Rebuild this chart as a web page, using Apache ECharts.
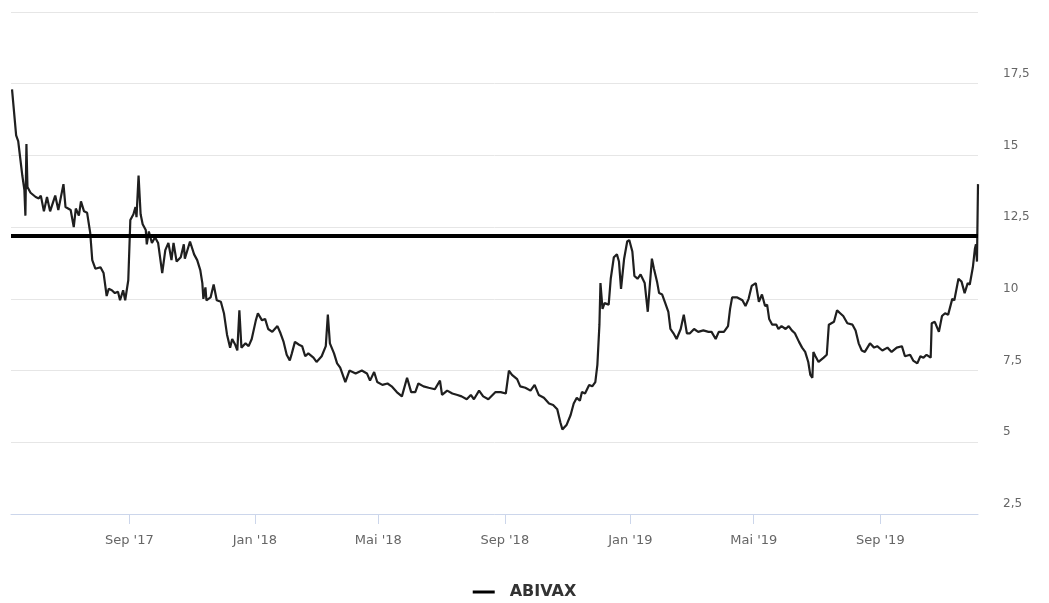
<!DOCTYPE html>
<html>
<head>
<meta charset="utf-8">
<script src="https://cdn.jsdelivr.net/npm/echarts@6/dist/echarts.min.js"></script>
<style>
html,body{margin:0;padding:0;background:#ffffff;}
#chart{width:1049px;height:603px;}
</style>
</head>
<body>
<div id="chart"></div>
<script>
const seriesName = 'ABIVAX';
const thresholdValue = 12.2;
const xMin = '2017-05-09';
const xMax = '2019-12-05';
const tickDates = ['2017-09-01','2018-01-01','2018-05-01','2018-09-01','2019-01-01','2019-05-01','2019-09-01'];
const tickLabels = ["Sep '17","Jan '18","Mai '18","Sep '18","Jan '19","Mai '19","Sep '19"];
const yMin = 2.5, yMax = 20, yStep = 2.5;

const dates = [
'2017-05-10','2017-05-14','2017-05-16','2017-05-20','2017-05-22','2017-05-23','2017-05-24','2017-05-25','2017-05-28','2017-06-02',
'2017-06-05','2017-06-07','2017-06-10','2017-06-13','2017-06-16','2017-06-21','2017-06-24','2017-06-29','2017-07-01','2017-07-06',
'2017-07-09','2017-07-11','2017-07-14','2017-07-16','2017-07-19','2017-07-22','2017-07-25','2017-07-27','2017-07-30','2017-08-04',
'2017-08-07','2017-08-10','2017-08-12','2017-08-15','2017-08-18','2017-08-21','2017-08-23','2017-08-26','2017-08-28','2017-08-31',
'2017-09-02','2017-09-05','2017-09-07','2017-09-08','2017-09-10','2017-09-12','2017-09-14','2017-09-17','2017-09-18','2017-09-20',
'2017-09-23','2017-09-26','2017-09-29','2017-10-03','2017-10-06','2017-10-09','2017-10-12','2017-10-14','2017-10-17','2017-10-21',
'2017-10-24','2017-10-25','2017-10-30','2017-11-03','2017-11-06','2017-11-09','2017-11-11','2017-11-12','2017-11-14','2017-11-15',
'2017-11-19','2017-11-22','2017-11-25','2017-11-29','2017-12-02','2017-12-05','2017-12-08','2017-12-10','2017-12-13','2017-12-15',
'2017-12-17','2017-12-19','2017-12-23','2017-12-26','2017-12-29','2018-01-02','2018-01-04','2018-01-08','2018-01-11','2018-01-14',
'2018-01-18','2018-01-23','2018-01-26','2018-01-29','2018-02-01','2018-02-04','2018-02-06','2018-02-09','2018-02-13','2018-02-16',
'2018-02-19','2018-02-22','2018-02-27','2018-03-02','2018-03-07','2018-03-11','2018-03-13','2018-03-15','2018-03-19','2018-03-22',
'2018-03-25','2018-03-30','2018-04-03','2018-04-09','2018-04-15','2018-04-20','2018-04-23','2018-04-27','2018-04-30','2018-05-05',
'2018-05-10','2018-05-14','2018-05-19','2018-05-24','2018-05-29','2018-06-02','2018-06-06','2018-06-09','2018-06-14','2018-06-19',
'2018-06-25','2018-06-30','2018-07-02','2018-07-07','2018-07-12','2018-07-17','2018-07-21','2018-07-26','2018-07-30','2018-08-02',
'2018-08-07','2018-08-11','2018-08-16','2018-08-23','2018-08-28','2018-09-02','2018-09-05','2018-09-08','2018-09-13','2018-09-16',
'2018-09-21','2018-09-26','2018-09-30','2018-10-04','2018-10-09','2018-10-14','2018-10-18','2018-10-22','2018-10-25','2018-10-27',
'2018-10-31','2018-11-04','2018-11-07','2018-11-10','2018-11-13','2018-11-15','2018-11-18','2018-11-22','2018-11-25','2018-11-28',
'2018-11-30','2018-12-02','2018-12-03','2018-12-05','2018-12-07','2018-12-11','2018-12-13','2018-12-16','2018-12-19','2018-12-21',
'2018-12-23','2018-12-26','2018-12-29','2018-12-31','2019-01-03','2019-01-05','2019-01-08','2019-01-11','2019-01-15','2019-01-18',
'2019-01-22','2019-01-24','2019-01-27','2019-01-29','2019-02-01','2019-02-04','2019-02-07','2019-02-09','2019-02-12','2019-02-15',
'2019-02-19','2019-02-22','2019-02-25','2019-02-28','2019-03-04','2019-03-08','2019-03-13','2019-03-18','2019-03-21','2019-03-25',
'2019-03-28','2019-04-02','2019-04-06','2019-04-08','2019-04-10','2019-04-15','2019-04-20','2019-04-23','2019-04-26','2019-04-29',
'2019-05-03','2019-05-06','2019-05-09','2019-05-12','2019-05-14','2019-05-16','2019-05-19','2019-05-23','2019-05-25','2019-05-28',
'2019-06-01','2019-06-04','2019-06-07','2019-06-10','2019-06-14','2019-06-17','2019-06-20','2019-06-23','2019-06-25','2019-06-27',
'2019-06-28','2019-06-30','2019-07-03','2019-07-08','2019-07-11','2019-07-13','2019-07-18','2019-07-21','2019-07-24','2019-07-27',
'2019-07-31','2019-08-05','2019-08-08','2019-08-11','2019-08-14','2019-08-17','2019-08-22','2019-08-26','2019-08-29','2019-09-03',
'2019-09-08','2019-09-12','2019-09-17','2019-09-22','2019-09-25','2019-09-30','2019-10-03','2019-10-07','2019-10-10','2019-10-13',
'2019-10-16','2019-10-20','2019-10-21','2019-10-24','2019-10-28','2019-10-31','2019-11-03','2019-11-06','2019-11-10','2019-11-12',
'2019-11-16','2019-11-19','2019-11-22','2019-11-25','2019-11-27','2019-11-30','2019-12-02','2019-12-03','2019-12-04','2019-12-05'
];

const prices = [
17.3,15.7,15.5,14.3,13.8,12.9,15.4,13.9,13.7,13.55,
13.5,13.6,13.05,13.55,13.05,13.6,13.1,14.0,13.2,13.1,
12.5,13.15,12.9,13.4,13.05,13.0,12.3,11.35,11.05,11.1,
10.9,10.1,10.35,10.3,10.2,10.25,9.95,10.3,9.95,10.65,
12.75,12.95,13.2,12.85,14.3,12.95,12.6,12.4,11.9,12.35,
11.95,12.15,11.95,10.9,11.7,11.95,11.35,11.95,11.3,11.45,
11.9,11.4,12.0,11.55,11.35,11.0,10.55,10.0,10.4,9.95,
10.05,10.5,9.95,9.9,9.5,8.75,8.3,8.6,8.4,8.2,
9.6,8.3,8.45,8.35,8.6,9.25,9.5,9.25,9.3,8.95,
8.85,9.05,8.8,8.5,8.05,7.85,8.1,8.5,8.4,8.35,
8.0,8.1,7.95,7.8,8.0,8.35,9.45,8.45,8.1,7.75,
7.6,7.1,7.5,7.4,7.5,7.4,7.15,7.45,7.1,7.0,
7.05,6.95,6.75,6.6,7.25,6.75,6.75,7.05,6.95,6.9,
6.85,7.15,6.65,6.8,6.7,6.65,6.6,6.5,6.65,6.5,
6.8,6.6,6.5,6.75,6.75,6.7,7.5,7.35,7.2,6.95,
6.9,6.8,7.0,6.65,6.55,6.35,6.3,6.15,5.7,5.45,
5.6,5.95,6.35,6.55,6.45,6.75,6.7,7.0,6.95,7.1,
7.7,9.1,10.55,9.65,9.85,9.8,10.7,11.45,11.55,11.3,
10.35,11.4,12.0,12.05,11.65,10.8,10.7,10.85,10.55,9.55,
11.4,11.05,10.6,10.2,10.15,9.85,9.55,8.95,8.8,8.6,
8.95,9.45,8.8,8.8,8.95,8.85,8.9,8.85,8.85,8.6,
8.85,8.85,9.05,9.65,10.05,10.05,9.95,9.75,10.0,10.45,
10.55,9.9,10.15,9.75,9.8,9.3,9.1,9.1,8.95,9.05,
8.95,9.05,8.9,8.8,8.5,8.3,8.15,7.8,7.35,7.25,
8.15,8.0,7.8,7.95,8.05,9.1,9.2,9.6,9.5,9.4,
9.15,9.1,8.9,8.45,8.2,8.15,8.45,8.3,8.35,8.2,
8.3,8.15,8.3,8.35,8.0,8.05,7.85,7.75,8.0,7.95,
8.05,7.95,9.15,9.2,8.85,9.4,9.5,9.45,10.0,9.95,
10.7,10.6,10.2,10.55,10.5,11.1,11.75,11.9,11.3,14.0
];

function toTime(s) {
  const p = s.split('-').map(Number);
  return new Date(p[0], p[1] - 1, p[2]).getTime();
}

const seriesData = dates.map((d, i) => [toTime(d), prices[i]]);
const tickTimes = tickDates.map(toTime);

const chart = echarts.init(document.getElementById('chart'), null, {renderer: 'canvas'});
chart.setOption({
  animation: false,
  backgroundColor: '#ffffff',
  grid: {left: 11, right: 71, top: 12, bottom: 89, containLabel: false},
  legend: {
    data: [seriesName],
    left: 'center',
    top: 579,
    icon: 'rect',
    itemWidth: 22,
    itemHeight: 3,
    itemGap: 10,
    textStyle: {fontFamily: 'DejaVu Sans', fontWeight: 'bold', fontSize: 16, color: '#333333', padding: [0, 0, 0, 10]}
  },
  xAxis: {
    type: 'value',
    min: toTime(xMin),
    max: toTime(xMax),
    axisLine: {show: true, lineStyle: {color: '#ccd6eb', width: 1}},
    axisTick: {show: true, length: 10, lineStyle: {color: '#ccd6eb'}, customValues: tickTimes},
    splitLine: {show: false},
    axisLabel: {
      customValues: tickTimes,
      margin: 20,
      color: '#666666',
      fontFamily: 'DejaVu Sans',
      fontSize: 13,
      formatter: function (v) {
        const i = tickTimes.indexOf(v);
        return i >= 0 ? tickLabels[i] : '';
      }
    }
  },
  yAxis: {
    type: 'value',
    position: 'right',
    min: yMin,
    max: yMax,
    interval: yStep,
    axisLine: {show: false},
    axisTick: {show: false},
    splitLine: {show: true, lineStyle: {color: '#e6e6e6', width: 1}},
    axisLabel: {
      margin: 25,
      color: '#666666',
      fontFamily: 'DejaVu Sans',
      fontSize: 12,
      verticalAlign: 'bottom',
      padding: [0, 0, 4, 0],
      formatter: function (v) {
        if (v >= yMax) return '';
        return String(v).replace('.', ',');
      }
    }
  },
  series: [{
    name: seriesName,
    type: 'line',
    data: seriesData,
    showSymbol: false,
    symbol: 'none',
    color: '#000000',
    lineStyle: {color: '#1f1f1f', width: 2.2},
    markLine: {
      silent: true,
      symbol: ['none', 'none'],
      label: {show: false},
      lineStyle: {color: '#000000', width: 4, type: 'solid'},
      data: [{yAxis: thresholdValue}]
    }
  }]
});
</script>
</body>
</html>
